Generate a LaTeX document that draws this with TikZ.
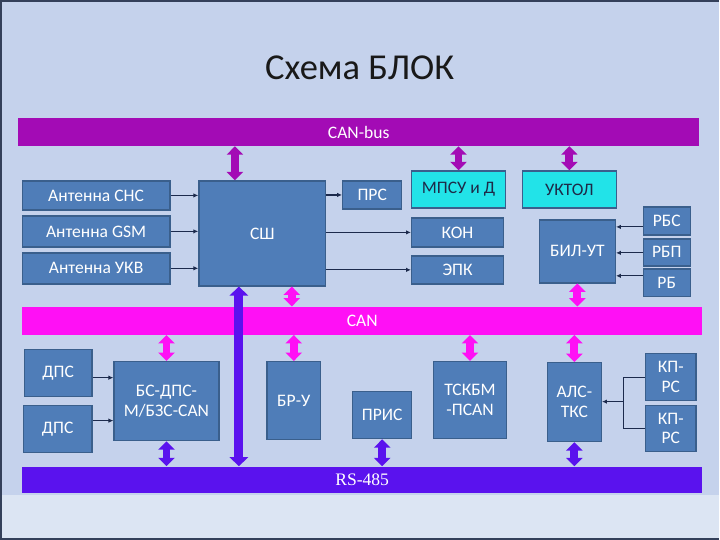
\documentclass[tikz,border=0pt]{standalone}
\usepackage{fontspec}
\setmainfont{Carlito}
\newfontfamily\rsfont{Liberation Serif}
\usetikzlibrary{arrows.meta,fit}
\definecolor{slidebg}{HTML}{C5D2EC}
\definecolor{lowbg}{HTML}{DCE5F3}
\definecolor{framec}{HTML}{34405A}
\definecolor{blkfill}{HTML}{4F7DB8}
\definecolor{blkedge}{HTML}{3A5F8C}
\definecolor{cyanfill}{HTML}{22E3E8}
\definecolor{textdark}{HTML}{1E2A48}
\definecolor{canbusc}{HTML}{A30BB5}
\definecolor{canc}{HTML}{FF10F5}
\definecolor{rsc}{HTML}{5A12EE}
\definecolor{wirec}{HTML}{1C2A4C}
\newcommand\boxfont{\fontsize{12.5}{14}\selectfont}

\begin{document}
\begin{tikzpicture}[x=0.025cm,y=-0.025cm,
  blk/.style={draw=blkedge,fill=blkfill,line width=1pt,inner sep=0pt},
  cyanblk/.style={blk,fill=cyanfill},
  bus/.style={inner sep=0pt},
  txt/.style={text=white,align=center,font=\boxfont,inner sep=0pt},
  dtxt/.style={txt,text=textdark},
  wire/.style={draw=wirec,line width=0.8pt,-{Latex[length=3.5pt,width=3.2pt]}},
  dbl/.style={line width=5.6pt,{Triangle[width=11.5pt,length=6pt]}-{Triangle[width=11.5pt,length=6pt]}}]

\fill[slidebg] (0,0) rectangle (720,540);
\fill[lowbg] (0,496) rectangle (720,540);
\draw[framec,line width=1.2pt] (720,0.6) -- (0.6,0.6) -- (0.6,539.4) -- (720,539.4);

\node[text=black!90,font=\fontsize{26}{30}\selectfont] (title) at (360,68) {Схема БЛОК};

% buses
\node[bus,fill=canbusc,fit={(18,118)(700,146)},label={[txt]center:CAN-bus}] (canbus) {};
\node[bus,fill=canc,fit={(22,307)(703,335)},label={[txt]center:CAN}] (can) {};
\node[bus,fill=rsc,fit={(22,467)(703,494)},label={[txt,font=\rsfont\boxfont]center:RS-485}] (rs) {};

% upper row
\node[blk,fit={(22,181)(170,210)},label={[txt]center:Антенна СНС}] (snc) {};
\node[blk,fit={(22,216)(170,247)},label={[txt]center:Антенна GSM}] (gsm) {};
\node[blk,fit={(22,253)(170,284)},label={[txt]center:Антенна УКВ}] (ukv) {};
\node[blk,fit={(199,181)(326,286)},label={[txt]center:СШ}] (sh) {};
\node[blk,fit={(343,181)(402,209)},label={[txt]center:ПРС}] (prs) {};
\node[cyanblk,fit={(412,171)(506,208)},label={[dtxt]center:МПСУ и Д}] (mpsu) {};
\node[cyanblk,fit={(523,171)(617,208)},label={[dtxt]center:УКТОЛ}] (ukt) {};
\node[blk,fit={(412,218)(504,247)},label={[txt]center:КОН}] (kon) {};
\node[blk,fit={(412,256)(504,284)},label={[txt]center:ЭПК}] (epk) {};
\node[blk,fit={(540,220)(616,283)},label={[txt]center:БИЛ-УТ}] (bil) {};
\node[blk,fit={(644,207)(691,235)},label={[txt]center:РБС}] (rbs) {};
\node[blk,fit={(644,239)(691,266)},label={[txt]center:РБП}] (rbp) {};
\node[blk,fit={(644,269)(691,297)},label={[txt]center:РБ}] (rb) {};

% lower row
\node[blk,fit={(24,350)(92,397)},label={[txt]center:ДПС}] (dps1) {};
\node[blk,fit={(23,406)(92,453)},label={[txt]center:ДПС}] (dps2) {};
\node[blk,fit={(114,362)(219,441)},label={[txt]center:БС-ДПС-\\М/БЗС-CAN}] (bs) {};
\node[blk,fit={(267,362)(321,440)},label={[txt]center:БР-У}] (br) {};
\node[blk,fit={(353,392)(412,439)},label={[txt]center:ПРИС}] (pris) {};
\node[blk,fit={(434,362)(507,439)},label={[txt]center:ТСКБМ\\-ПCAN}] (tsk) {};
\node[blk,fit={(548,363)(602,442)},label={[txt]center:АЛС-\\ТКС}] (als) {};
\node[blk,fit={(646,354)(697,401)},label={[txt]center:КП-\\РС}] (kp1) {};
\node[blk,fit={(646,406)(697,452)},label={[txt]center:КП-\\РС}] (kp2) {};

% thin links
\draw[wire] (snc.east) -- (sh.west |- snc.east);
\draw[wire] (gsm.east) -- (sh.west |- gsm.east);
\draw[wire] (ukv.east) -- (sh.west |- ukv.east);
\draw[wire] (sh.east |- prs.west) -- (prs.west);
\draw[wire] (sh.east |- kon.west) -- (kon.west);
\draw[wire] (sh.east |- epk.west) -- (epk.west);
\draw[wire] (rbs.west |- 0,227) -- (bil.east |- 0,227);
\draw[wire] (rbp.west |- 0,253) -- (bil.east |- 0,253);
\draw[wire] (rb.west |- 0,276) -- (bil.east |- 0,276);
\draw[wire] (dps1.east |- 0,378) -- (bs.west |- 0,378);
\draw[wire] (dps2.east |- 0,421) -- (bs.west |- 0,421);
\coordinate (kpj) at (624,402);
\draw[draw=wirec,line width=0.8pt] (kp1.west) -| (kpj) |- (kp2.west);
\draw[wire] (kpj) -- (als.east |- kpj);

% bus links
\draw[dbl,canbusc] (canbus.south -| 235,0) -- (sh.north -| 235,0);
\draw[dbl,canbusc] (canbus.south -| mpsu.north) -- (mpsu.north);
\draw[dbl,canbusc] (canbus.south -| ukt.north) -- (ukt.north);
\draw[dbl,canc] (sh.south -| 292,0) -- (can.north -| 292,0);
\draw[dbl,canc] (bil.south) -- (can.north -| bil.south);
\draw[dbl,canc] (can.south -| bs.north) -- (bs.north);
\draw[dbl,canc] (can.south -| br.north) -- (br.north);
\draw[dbl,canc] (can.south -| tsk.north) -- (tsk.north);
\draw[dbl,canc] (can.south -| als.north) -- (als.north);
\draw[dbl,rsc] (bs.south) -- (rs.north -| bs.south);
\draw[dbl,rsc] (pris.south) -- (rs.north -| pris.south);
\draw[dbl,rsc] (als.south) -- (rs.north -| als.south);
\draw[rsc,line width=6.4pt,{Triangle[width=13pt,length=6.5pt]}-{Triangle[width=13pt,length=6.5pt]}] (rs.north -| 239,0) -- (sh.south -| 239,0);

\end{tikzpicture}
\end{document}
